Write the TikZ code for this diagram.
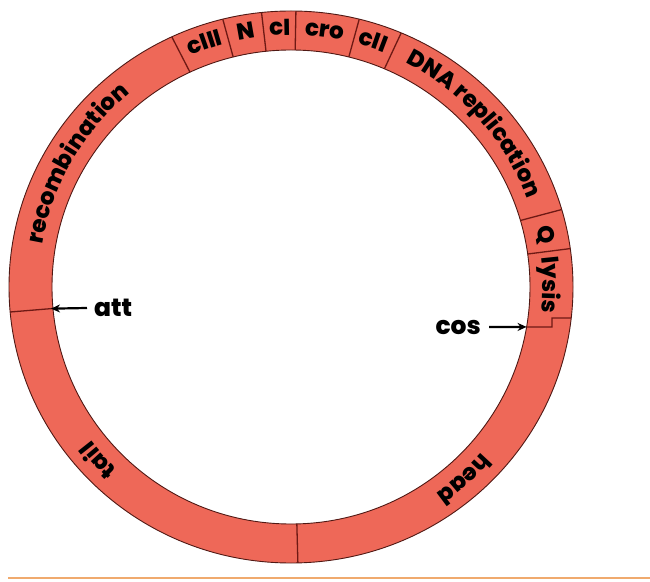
\documentclass[tikz,border=0pt]{standalone}
\usepackage{fontspec}
\setmainfont{Poppins}
\newfontfamily\heavyfam{Poppins ExtraBold}
\usetikzlibrary{decorations.text,arrows.meta}
\definecolor{ringred}{RGB}{238,104,88}
\definecolor{edgecol}{RGB}{80,25,20}
\definecolor{divline}{RGB}{110,25,20}
\definecolor{baseorange}{RGB}{240,170,110}
\newcommand\lblfont{\fontsize{23}{23}\selectfont\heavyfam}
\newcommand\sidefont{\fontsize{25}{25}\selectfont\heavyfam}
\tikzset{
  ringedge/.style={draw=edgecol,line width=0.9pt},
  divider/.style={draw=divline,line width=1.3pt},
  arclabel/.style={decorate,decoration={text along path,text align=center,text={|\lblfont|#1}}},
  pointer/.style={line width=2.2pt,-{Stealth[length=9pt,width=8pt]}},
  sidelabel/.style={font=\sidefont,inner sep=0pt}
}
\newcommand\arclbl[2]{%
  \pgfmathsetmacro\lblsa{#1+40}\pgfmathsetmacro\lblea{#1-40}%
  \path[arclabel={#2}] (\lblsa:252pt) arc[start angle=\lblsa,end angle=\lblea,radius=252pt];}
\begin{document}
\begin{tikzpicture}[x=1pt,y=1pt]
\useasboundingbox (0,0) rectangle (650,581);
\draw[baseorange,line width=2pt] (8,3) -- (650,3);
\begin{scope}[shift={(291,294)}]
  \fill[ringred,even odd rule] (0,0) ellipse [x radius=282,y radius=276] (0,0) ellipse [x radius=239,y radius=237];
  \draw[ringedge] (0,0) ellipse [x radius=282,y radius=276];
  \draw[ringedge] (0,0) ellipse [x radius=239,y radius=237];
  \foreach \a in {115,104,96,89,76,67,16.3,8,185.2,271.4}
    \draw[divider] (\a:239pt and 237pt) -- (\a:282pt and 276pt);
  \coordinate (cosin) at (-9.7:239pt and 237pt);
  \coordinate (stepa) at (261,-40);
  \coordinate (stepb) at (261,-31);
  \coordinate (cosout) at (-6.45:282pt and 276pt);
  \draw[divider] (cosin) -- (stepa) -- (stepb) -- (cosout);
  \coordinate (attin) at (185.2:241pt and 239pt);
  \arclbl{150}{recombination}
  \arclbl{109.5}{cIII}
  \arclbl{100}{N}
  \arclbl{92.5}{cI}
  \arclbl{82.5}{cro}
  \arclbl{71.5}{cII}
  \arclbl{41.7}{DNA replication}
  \arclbl{11.5}{Q}
  \arclbl{0.5}{lysis}
  \arclbl{222}{tail}
  \arclbl{-48}{head}
\end{scope}
\node[sidelabel,anchor=west] (att) at (94,273) {att};
\draw[pointer] ([xshift=-7pt]att.west) -- (attin);
\node[sidelabel,anchor=east] (cos) at (481,254) {cos};
\draw[pointer] ([xshift=8pt]cos.east) -- (cosin);
\end{tikzpicture}
\end{document}
